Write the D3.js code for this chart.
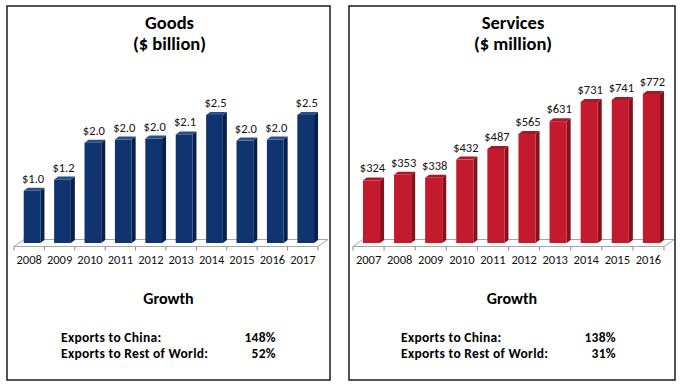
<!DOCTYPE html>
<html>
<head>
<meta charset="utf-8">
<script src="https://cdn.jsdelivr.net/npm/d3@7"></script>
<style>
  body { margin: 0; background: #fff; }
  svg { display: block; font-family: Carlito, Calibri, Lato, sans-serif; }
</style>
</head>
<body>
<div id="chart-container"></div>
<script>
// data
const goodsYears = ['2008', '2009', '2010', '2011', '2012', '2013', '2014', '2015', '2016', '2017']
const goodsValues = [1.02, 1.24, 1.96, 2.02, 2.04, 2.12, 2.5, 2.0, 2.02, 2.5]
const servicesYears = ['2007', '2008', '2009', '2010', '2011', '2012', '2013', '2014', '2015', '2016']
const servicesValues = [324, 353, 338, 432, 487, 565, 631, 731, 741, 772]
const goodsTitle = ['Goods', '($ billion)']
const servicesTitle = ['Services', '($ million)']
const growthLabels = ['Exports to China:', 'Exports to Rest of World:']
const goodsGrowth = ['148%', '52%']
const servicesGrowth = ['138%', '31%']

const width = 683
const height = 387

const svg = d3.select('#chart-container')
  .append('svg')
  .attr('width', width)
  .attr('height', height)

// one panel = box, title, 3d bars, growth table
function drawPanel (opts) {
  const g = svg.append('g')

  g.append('rect')
    .attr('x', opts.x)
    .attr('y', 6)
    .attr('width', opts.w)
    .attr('height', 374)
    .attr('fill', '#fff')
    .attr('stroke', '#1a1a1a')
    .attr('stroke-width', 1.5)

  const cx = opts.x + opts.w / 2 + 1

  g.selectAll('text.title')
    .data(opts.title)
    .join('text')
    .attr('class', 'title')
    .attr('x', cx)
    .attr('y', (d, i) => 29 + i * 21)
    .attr('text-anchor', 'middle')
    .attr('font-size', 18.5)
    .attr('font-weight', 'bold')
    .attr('fill', '#000')
    .text(d => d)

  const xScale = d3.scaleBand()
    .domain(opts.categories)
    .range(opts.floorX)

  const yScale = d3.scaleLinear()
    .domain([0, opts.top])
    .range([243, opts.topPx])

  const bw = xScale.bandwidth()
  const frontW = bw * 0.55
  const dx = 4
  const dy = 3

  // floor
  const fy = 246.5
  const [fx0, fx1] = opts.floorX
  g.append('polygon')
    .attr('points', [[fx0, fy], [fx1, fy], [fx1 + 10, fy - 7], [fx0 + 10, fy - 7]].join(' '))
    .attr('fill', '#fff')
    .attr('stroke', '#a6a6a6')
    .attr('stroke-width', 1)

  const ticks = opts.categories.map(c => xScale(c)).concat([fx1])
  g.selectAll('line.tick')
    .data(ticks)
    .join('line')
    .attr('class', 'tick')
    .attr('x1', d => d)
    .attr('x2', d => d)
    .attr('y1', fy)
    .attr('y2', fy + 4)
    .attr('stroke', '#8c8c8c')

  const bars = opts.categories.map((c, i) => ({key: c, value: opts.values[i]}))
  const bx = d => xScale(d.key) + bw * 0.32
  const y0 = yScale(0)

  const bar = g.selectAll('g.bar')
    .data(bars)
    .join('g')
    .attr('class', 'bar')

  bar.append('polygon')
    .attr('points', d => {
      const x = bx(d) + frontW
      const y = yScale(d.value)
      return [[x, y], [x + dx, y - dy], [x + dx, y0 - dy], [x, y0]].join(' ')
    })
    .attr('fill', opts.side)

  bar.append('polygon')
    .attr('points', d => {
      const x = bx(d)
      const y = yScale(d.value)
      return [[x, y], [x + dx, y - dy], [x + frontW + dx, y - dy], [x + frontW, y]].join(' ')
    })
    .attr('fill', opts.topColor)

  bar.append('rect')
    .attr('x', bx)
    .attr('y', d => yScale(d.value))
    .attr('width', frontW)
    .attr('height', d => y0 - yScale(d.value))
    .attr('fill', opts.front)

  bar.append('text')
    .attr('x', d => bx(d) + frontW / 2 + 1)
    .attr('y', d => yScale(d.value) - 8)
    .attr('text-anchor', 'middle')
    .attr('font-size', 12.5)
    .attr('fill', '#111')
    .text(d => opts.fmt(d.value))

  g.selectAll('text.year')
    .data(opts.categories)
    .join('text')
    .attr('class', 'year')
    .attr('x', d => xScale(d) + bw / 2)
    .attr('y', 264)
    .attr('text-anchor', 'middle')
    .attr('font-size', 12.5)
    .attr('fill', '#111')
    .text(d => d)

  g.append('text')
    .attr('x', cx - 1)
    .attr('y', 304)
    .attr('text-anchor', 'middle')
    .attr('font-size', 16)
    .attr('font-weight', 'bold')
    .text('Growth')

  // growth table, rows kept tight like the original
  g.selectAll('text.glabel')
    .data(growthLabels)
    .join('text')
    .attr('class', 'glabel')
    .attr('x', opts.x + opts.textL)
    .attr('y', (d, i) => 341.5 + i * 16.5)
    .attr('font-size', 13.5)
    .attr('letter-spacing', 0.3)
    .attr('font-weight', 'bold')
    .text(d => d)

  g.selectAll('text.gval')
    .data(opts.growth)
    .join('text')
    .attr('class', 'gval')
    .attr('x', opts.x + opts.textR)
    .attr('y', (d, i) => 341.5 + i * 16.5)
    .attr('text-anchor', 'end')
    .attr('font-size', 13.5)
    .attr('letter-spacing', 0.3)
    .attr('font-weight', 'bold')
    .text(d => d)
}

drawPanel({
  x: 7, w: 323,
  title: goodsTitle,
  categories: goodsYears,
  values: goodsValues,
  floorX: [14, 318],
  top: 2.5, topPx: 115,
  front: '#0f3470', side: '#081f47', topColor: '#2b4f8c',
  fmt: d => '$' + d3.format('.1f')(d),
  growth: goodsGrowth,
  textL: 54, textR: 269
})

drawPanel({
  x: 349, w: 326,
  title: servicesTitle,
  categories: servicesYears,
  values: servicesValues,
  floorX: [353, 664],
  top: 772, topPx: 94,
  front: '#c41a2e', side: '#87101d', topColor: '#a8182a',
  fmt: d => '$' + d3.format('.0f')(d),
  growth: servicesGrowth,
  textL: 52, textR: 267
})
</script>
</body>
</html>
